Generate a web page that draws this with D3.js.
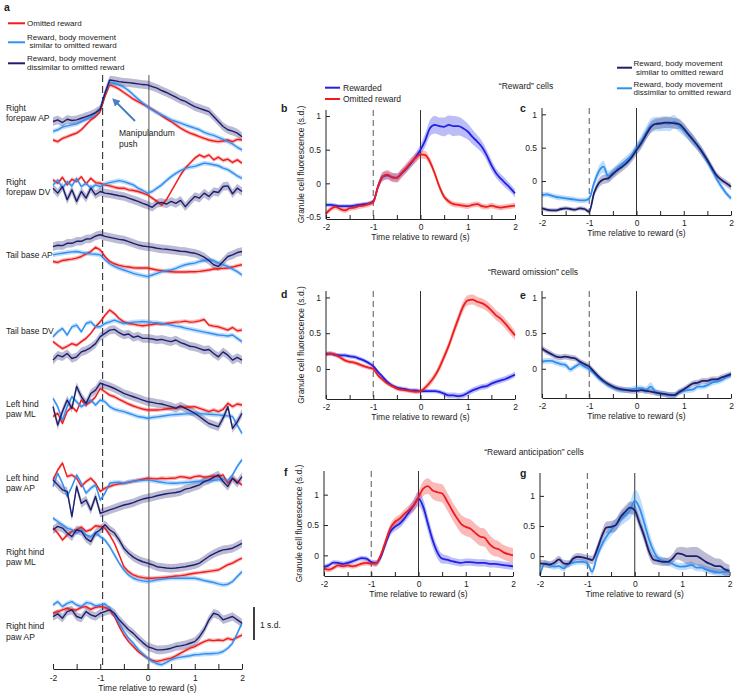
<!DOCTYPE html>
<html><head><meta charset="utf-8">
<script src="https://cdn.jsdelivr.net/npm/d3@7"></script>
<style>
body{margin:0;background:#fff}
text{font-family:"Liberation Sans",Arial,sans-serif;fill:#222}
</style>
</head><body>
<svg id="fig" width="743" height="699" xmlns="http://www.w3.org/2000/svg"></svg>
<script>
// ---------- DATA ----------
const times = d3.range(41).map(i => Math.round(i - 20) / 10); // -2 .. 2 s, 0.1 s steps
const xTicks = [-2, -1.5, -1, -0.5, 0, 0.5, 1, 1.5, 2];

// Panel a: body movement (s.d., relative to each row's baseline)
const rowNames = [["Right", "forepaw AP"], ["Right", "forepaw DV"], ["Tail base AP"], ["Tail base DV"],
  ["Left hind", "paw ML"], ["Left hind", "paw AP"], ["Right hind", "paw ML"], ["Right hind", "paw AP"]];
const rowOffset = [16.64, 14.62, 12.6, 10.37, 8.05, 5.63, 3.61, 1.59];
const aOmitted = [
  [-0.61,-0.66,-0.56,-0.51,-0.45,-0.40,-0.30,-0.15,0,0.10,0.25,0.71,1.06,1.01,0.93,0.83,0.73,0.63,0.55,0.48,0.40,0.32,0.23,0.13,0.03,-0.05,-0.15,-0.25,-0.33,-0.40,-0.45,-0.51,-0.56,-0.61,-0.64,-0.66,-0.64,-0.61,-0.66,-0.59,-0.61],
  [0.20,0.10,0.28,0.05,0.22,0.15,0.30,0.08,0.25,0.12,0.10,0.05,0.02,-0.02,-0.05,-0.05,-0.10,-0.12,-0.15,-0.20,-0.25,-0.35,-0.45,-0.56,-0.40,-0.15,0.10,0.35,0.56,0.71,0.86,0.96,0.89,0.96,0.81,0.89,0.79,0.83,0.73,0.81,0.71],
  [-0.25,-0.28,-0.22,-0.20,-0.18,-0.15,-0.10,-0.02,0.05,0.18,0.10,-0.10,-0.25,-0.32,-0.37,-0.40,-0.42,-0.44,-0.45,-0.45,-0.45,-0.48,-0.51,-0.53,-0.55,-0.56,-0.57,-0.57,-0.57,-0.56,-0.56,-0.55,-0.53,-0.51,-0.48,-0.47,-0.46,-0.45,-0.42,-0.38,-0.35],
  [-0.45,-0.56,-0.66,-0.59,-0.51,-0.56,-0.45,-0.35,-0.20,0,0.15,0.35,0.51,0.40,0.25,0.15,0.10,0.08,0.05,0.03,0.05,0.07,0.10,0.08,0.10,0.12,0.14,0.15,0.17,0.14,0.15,0.18,0.22,0.05,0.02,0,-0.05,-0.10,-0.02,-0.12,-0.10],
  [-0.40,-0.30,-0.61,-0.25,-0.10,-0.25,0.10,-0.05,0.05,0.20,0.45,0.35,0.25,0.20,0.12,0.05,-0.02,-0.08,-0.13,-0.17,-0.20,-0.20,-0.20,-0.19,-0.17,-0.15,-0.14,-0.12,-0.12,-0.11,-0.10,-0.15,-0.20,-0.25,-0.20,-0.25,-0.18,0,-0.10,-0.02,-0.05],
  [0.10,0.40,0.61,0.20,0.25,0.15,-0.10,0.05,0.15,0,-0.25,-0.15,-0.10,-0.05,-0.02,0,0.03,0.06,0.09,0.12,0.15,0.14,0.13,0.15,0.14,0.15,0.16,0.20,0.18,0.15,0.20,0.22,0.18,0.20,0.22,0.20,0.25,0,0.15,0.05,-0.05],
  [0.66,0.51,0.30,0.45,0.56,0.61,0.69,0.56,0.61,0.73,0.71,0.66,0.45,0.20,-0.15,-0.51,-0.66,-0.76,-0.81,-0.84,-0.86,-0.86,-0.85,-0.84,-0.83,-0.81,-0.79,-0.78,-0.76,-0.73,-0.71,-0.69,-0.67,-0.65,-0.63,-0.61,-0.53,-0.45,-0.40,-0.32,-0.25],
  [0.10,0.15,0.20,0.25,0.20,0.20,0.28,0.30,0.22,0.28,0.30,0.28,0.20,0,-0.30,-0.56,-0.76,-0.91,-1.06,-1.16,-1.26,-1.33,-1.36,-1.33,-1.29,-1.26,-1.19,-1.11,-1.03,-0.96,-0.91,-0.83,-0.76,-0.71,-0.73,-0.71,-0.73,-0.66,-0.71,-0.63,-0.56]
];
const aSimilar = [
  [-0.35,-0.30,-0.22,-0.18,-0.15,-0.12,-0.05,0.02,0.10,0.20,0.35,0.81,1.13,1.11,1.06,0.99,0.89,0.76,0.63,0.51,0.40,0.30,0.22,0.15,0.08,0,-0.05,-0.10,-0.15,-0.20,-0.25,-0.30,-0.38,-0.43,-0.47,-0.53,-0.59,-0.66,-0.73,-0.83,-0.91],
  [0.05,0.20,-0.05,0.15,0.02,0.25,0,0.10,-0.05,0.05,0,0.08,0.12,0.15,0.18,0.15,0.10,0.05,-0.05,-0.12,-0.20,-0.15,-0.05,0.05,0.18,0.30,0.40,0.48,0.55,0.59,0.61,0.66,0.71,0.69,0.66,0.63,0.56,0.51,0.42,0.32,0.25],
  [-0.05,-0.02,0,0.02,0.04,0.05,0.02,0,-0.02,-0.03,-0.05,-0.20,-0.32,-0.40,-0.46,-0.51,-0.56,-0.61,-0.65,-0.68,-0.71,-0.66,-0.61,-0.56,-0.53,-0.51,-0.46,-0.40,-0.35,-0.32,-0.30,-0.25,-0.22,-0.20,-0.22,-0.30,-0.35,-0.40,-0.48,-0.56,-0.66],
  [-0.30,-0.15,-0.05,-0.25,0,0.05,-0.15,0.10,0.15,0,0,0.10,0.15,0.20,0.15,0.10,0.12,0.14,0.15,0.16,0.15,0.13,0.12,0.10,0.08,0.05,0.02,0,-0.04,-0.07,-0.10,-0.13,-0.16,-0.19,-0.22,-0.25,-0.26,-0.28,-0.25,-0.35,-0.45],
  [0.15,-0.10,-0.51,-0.10,0.20,0.05,-0.10,0,0.10,-0.05,0.10,0.05,-0.10,-0.18,-0.22,-0.25,-0.30,-0.35,-0.40,-0.42,-0.45,-0.43,-0.41,-0.39,-0.37,-0.35,-0.34,-0.33,-0.32,-0.31,-0.30,-0.31,-0.32,-0.33,-0.34,-0.35,-0.37,-0.38,-0.40,-0.66,-0.91],
  [-0.10,0.30,0,-0.40,-0.10,0.25,0,-0.30,-0.15,-0.05,-0.51,-0.30,0,0.02,0.03,0,0.04,0.06,0.08,0.09,0.10,0.08,0.05,0.03,0.01,0,0,0.01,0.02,0.03,0.05,0.06,0.07,0.08,0.09,0.10,0.12,0.08,0.25,0.51,0.71],
  [0.96,0.86,0.76,0.66,0.61,0.51,0.61,0.45,0.40,0.51,0.40,0.30,0.10,-0.15,-0.40,-0.61,-0.76,-0.86,-0.91,-0.94,-0.96,-0.94,-0.91,-0.89,-0.87,-0.86,-0.86,-0.86,-0.86,-0.86,-0.86,-0.89,-0.93,-0.96,-0.99,-1.03,-1.06,-1.04,-0.96,-0.81,-0.66],
  [0.35,0.45,0.30,0.40,0.45,0.35,0.30,0.42,0.40,0.32,0.35,0.38,0.25,0.05,-0.20,-0.45,-0.66,-0.81,-0.99,-1.13,-1.26,-1.36,-1.43,-1.46,-1.39,-1.31,-1.26,-1.23,-1.21,-1.19,-1.16,-1.15,-1.13,-1.13,-1.12,-1.11,-1.06,-0.96,-0.81,-0.51,-0.20]
];
const aDissimilar = [
  [-0.05,0,-0.08,0.02,-0.02,0,0.05,0.10,0.15,0.22,0.32,0.81,1.21,1.19,1.16,1.14,1.13,1.11,1.09,1.07,1.06,1.01,0.96,0.89,0.83,0.76,0.69,0.61,0.56,0.48,0.40,0.35,0.30,0.25,0.10,-0.05,-0.20,-0.30,-0.34,-0.40,-0.51],
  [-0.05,-0.20,0,-0.40,-0.10,-0.45,-0.15,-0.35,-0.05,-0.25,-0.15,-0.20,-0.22,-0.25,-0.28,-0.30,-0.35,-0.40,-0.45,-0.51,-0.56,-0.63,-0.51,-0.48,-0.53,-0.45,-0.51,-0.42,-0.61,-0.45,-0.30,-0.35,-0.20,-0.30,-0.15,-0.18,0,0.02,-0.22,-0.05,-0.15],
  [0.20,0.24,0.23,0.30,0.30,0.36,0.36,0.43,0.44,0.52,0.56,0.51,0.48,0.45,0.42,0.40,0.35,0.30,0.25,0.22,0.20,0.18,0.15,0.13,0.12,0.10,0.08,0.06,0.05,0.02,0,-0.05,-0.12,-0.22,-0.35,-0.40,-0.25,-0.10,-0.05,0.02,0.05],
  [-1.01,-0.86,-0.91,-0.81,-0.96,-0.91,-0.76,-0.71,-0.63,-0.51,-0.30,-0.20,-0.10,-0.08,-0.18,-0.25,-0.22,-0.32,-0.28,-0.35,-0.35,-0.37,-0.40,-0.38,-0.42,-0.45,-0.40,-0.48,-0.53,-0.59,-0.61,-0.66,-0.71,-0.69,-0.81,-0.91,-0.76,-0.86,-1.01,-0.93,-1.01],
  [-0.10,-0.66,-0.25,0.10,-0.15,0.51,0.20,0,0.30,0.40,0.61,0.56,0.51,0.45,0.38,0.30,0.25,0.20,0.15,0.10,0.05,0.03,0,-0.02,-0.06,-0.10,-0.15,-0.08,-0.15,-0.22,-0.30,-0.40,-0.51,-0.61,-0.66,-0.71,-0.45,-0.10,-0.76,-0.56,-0.30],
  [0.10,-0.05,-0.20,-0.25,-1.01,-0.10,-0.61,-0.51,-0.81,-0.40,-0.91,-0.86,-0.81,-0.76,-0.71,-0.66,-0.63,-0.59,-0.53,-0.48,-0.45,-0.42,-0.38,-0.35,-0.32,-0.30,-0.28,-0.25,-0.18,-0.15,-0.10,-0.05,0.05,0.10,0.18,0.25,0.05,-0.10,0.15,0,0.20],
  [0.61,0.71,0.66,0.51,0.40,0.61,0.56,0.35,0.25,0.51,0.61,0.76,0.61,0.51,0.30,0.05,-0.10,-0.22,-0.30,-0.36,-0.40,-0.45,-0.51,-0.53,-0.55,-0.56,-0.55,-0.53,-0.51,-0.48,-0.45,-0.40,-0.30,-0.20,-0.12,-0.05,0,0.02,0.05,0.12,0.20],
  [0,0.08,-0.05,0.15,0.20,0,-0.05,0.15,0.05,0,0.10,0.15,0.20,0.10,-0.10,-0.25,-0.40,-0.51,-0.66,-0.79,-0.91,-0.96,-1.01,-1.01,-0.99,-0.96,-0.91,-0.89,-0.86,-0.81,-0.76,-0.61,-0.40,-0.10,0.10,0.05,-0.10,-0.05,0,-0.10,-0.20]
];
const aSemOmitted = 0.06, aSemSimilar = 0.07, aSemDissimilar = 0.13;

// Panels b-g: granule cell fluorescence (s.d.)
const bRewarded = [-0.32,-0.32,-0.33,-0.34,-0.34,-0.34,-0.33,-0.32,-0.31,-0.30,-0.27,-0.05,0.10,0.12,0.09,0.085,0.15,0.22,0.30,0.39,0.50,0.64,0.82,0.87,0.85,0.84,0.87,0.85,0.85,0.82,0.77,0.69,0.62,0.54,0.42,0.27,0.15,0.07,0.0,-0.07,-0.15];
const bRewardedSem = [0.03,0.03,0.03,0.03,0.03,0.03,0.03,0.03,0.03,0.03,0.03,0.05,0.06,0.06,0.06,0.06,0.06,0.06,0.06,0.07,0.08,0.1,0.12,0.13,0.13,0.14,0.14,0.15,0.14,0.13,0.12,0.11,0.1,0.09,0.08,0.08,0.07,0.07,0.07,0.06,0.06];
const bOmitted = [-0.45,-0.38,-0.35,-0.38,-0.40,-0.37,-0.36,-0.34,-0.33,-0.31,-0.28,-0.05,0.10,0.13,0.09,0.08,0.15,0.23,0.31,0.38,0.43,0.42,0.32,0.15,-0.05,-0.20,-0.27,-0.31,-0.32,-0.33,-0.34,-0.32,-0.31,-0.34,-0.35,-0.33,-0.35,-0.36,-0.35,-0.34,-0.33];
const bOmittedSem = [0.04,0.04,0.04,0.04,0.04,0.04,0.04,0.04,0.04,0.04,0.04,0.05,0.07,0.07,0.07,0.07,0.07,0.07,0.07,0.07,0.06,0.06,0.06,0.05,0.05,0.04,0.04,0.04,0.04,0.04,0.04,0.04,0.04,0.04,0.04,0.04,0.04,0.04,0.04,0.04,0.04];
const cSimilar = [-0.41,-0.43,-0.44,-0.44,-0.42,-0.41,-0.42,-0.43,-0.41,-0.42,-0.46,-0.185,-0.035,0.025,0.04,0.105,0.165,0.215,0.275,0.355,0.465,0.565,0.69,0.805,0.855,0.865,0.875,0.875,0.865,0.855,0.79,0.70,0.615,0.525,0.425,0.315,0.19,0.08,0.015,-0.035,-0.085];
const cSimilarSem = [0.03,0.03,0.03,0.03,0.03,0.03,0.03,0.03,0.03,0.03,0.03,0.05,0.07,0.07,0.07,0.07,0.07,0.07,0.07,0.07,0.08,0.08,0.08,0.08,0.08,0.08,0.08,0.08,0.08,0.08,0.08,0.08,0.08,0.07,0.07,0.06,0.06,0.05,0.05,0.05,0.05];
const cDissimilar = [-0.21,-0.2,-0.22,-0.24,-0.25,-0.26,-0.27,-0.28,-0.29,-0.29,-0.26,-0.035,0.14,0.215,0.075,0.125,0.19,0.255,0.315,0.39,0.49,0.59,0.715,0.825,0.855,0.855,0.865,0.855,0.89,0.825,0.765,0.69,0.605,0.515,0.415,0.29,0.165,0.025,-0.085,-0.185,-0.26];
const cDissimilarSem = [0.04,0.04,0.04,0.04,0.04,0.04,0.04,0.04,0.04,0.04,0.04,0.06,0.08,0.09,0.08,0.07,0.07,0.07,0.07,0.07,0.08,0.09,0.1,0.11,0.11,0.11,0.11,0.11,0.1,0.09,0.09,0.08,0.08,0.07,0.07,0.06,0.06,0.05,0.05,0.04,0.04];
const dRewarded = [0.215,0.215,0.195,0.19,0.19,0.175,0.17,0.145,0.12,0.085,0.04,-0.04,-0.11,-0.18,-0.23,-0.26,-0.275,-0.285,-0.30,-0.30,-0.31,-0.31,-0.31,-0.31,-0.32,-0.345,-0.37,-0.37,-0.38,-0.37,-0.335,-0.30,-0.275,-0.25,-0.24,-0.205,-0.18,-0.16,-0.14,-0.11,-0.08];
const dRewardedSem = [0.03,0.03,0.03,0.03,0.03,0.03,0.03,0.03,0.03,0.03,0.03,0.03,0.03,0.03,0.03,0.03,0.03,0.03,0.03,0.03,0.03,0.03,0.03,0.03,0.03,0.035,0.04,0.04,0.04,0.04,0.04,0.04,0.04,0.04,0.04,0.04,0.04,0.04,0.04,0.04,0.04];
const dOmitted = [0.20,0.215,0.20,0.16,0.12,0.10,0.09,0.065,0.04,0.02,0.0,-0.09,-0.15,-0.205,-0.24,-0.275,-0.29,-0.30,-0.31,-0.32,-0.31,-0.26,-0.19,-0.10,0.02,0.17,0.33,0.52,0.70,0.87,0.96,0.97,0.94,0.92,0.88,0.82,0.75,0.70,0.63,0.55,0.47];
const dOmittedSem = [0.03,0.03,0.03,0.03,0.03,0.03,0.03,0.03,0.03,0.03,0.03,0.03,0.03,0.03,0.03,0.03,0.03,0.03,0.03,0.03,0.03,0.04,0.05,0.05,0.06,0.06,0.06,0.07,0.07,0.07,0.07,0.07,0.07,0.07,0.07,0.07,0.07,0.07,0.07,0.07,0.06];
const eSimilar = [0.285,0.24,0.205,0.17,0.16,0.17,0.155,0.145,0.10,0.065,0.03,-0.04,-0.11,-0.17,-0.215,-0.25,-0.275,-0.29,-0.30,-0.31,-0.31,-0.30,-0.31,-0.32,-0.335,-0.345,-0.355,-0.365,-0.37,-0.33,-0.29,-0.245,-0.205,-0.195,-0.17,-0.17,-0.15,-0.15,-0.12,-0.10,-0.075];
const eSimilarSem = [0.04,0.04,0.04,0.04,0.04,0.04,0.04,0.04,0.04,0.04,0.04,0.04,0.04,0.04,0.04,0.04,0.04,0.04,0.04,0.04,0.04,0.04,0.04,0.04,0.04,0.04,0.04,0.04,0.04,0.04,0.04,0.04,0.04,0.04,0.04,0.04,0.04,0.04,0.04,0.04,0.04];
const eDissimilar = [0.10,0.11,0.11,0.085,0.065,0.05,-0.01,0.03,0.065,0.03,-0.01,-0.065,-0.135,-0.18,-0.23,-0.26,-0.29,-0.30,-0.30,-0.29,-0.275,-0.275,-0.30,-0.25,-0.32,-0.345,-0.355,-0.37,-0.37,-0.32,-0.31,-0.30,-0.29,-0.25,-0.25,-0.23,-0.195,-0.18,-0.16,-0.12,-0.09];
const eDissimilarSem = [0.04,0.04,0.04,0.04,0.04,0.04,0.04,0.04,0.04,0.04,0.04,0.04,0.04,0.04,0.04,0.04,0.04,0.04,0.04,0.04,0.04,0.04,0.05,0.06,0.05,0.04,0.04,0.04,0.04,0.04,0.04,0.04,0.04,0.04,0.04,0.04,0.04,0.04,0.04,0.04,0.04];
const fRewarded = [-0.19,-0.165,-0.12,-0.125,-0.14,-0.125,-0.10,-0.07,-0.045,-0.055,-0.11,-0.13,-0.03,0.19,0.385,0.47,0.52,0.605,0.715,0.825,0.935,0.80,0.52,0.25,0.05,-0.055,-0.07,-0.095,-0.11,-0.125,-0.11,-0.11,-0.12,-0.125,-0.125,-0.14,-0.14,-0.15,-0.16,-0.17,-0.18];
const fRewardedSem = [0.04,0.04,0.04,0.04,0.04,0.04,0.04,0.04,0.04,0.04,0.04,0.05,0.06,0.07,0.07,0.07,0.07,0.07,0.08,0.1,0.12,0.13,0.13,0.12,0.1,0.08,0.07,0.06,0.06,0.06,0.06,0.06,0.06,0.06,0.06,0.06,0.06,0.06,0.06,0.06,0.06];
const fOmitted = [-0.22,-0.235,-0.205,-0.165,-0.18,-0.165,-0.18,-0.165,-0.135,-0.125,-0.135,-0.135,0.0,0.22,0.44,0.55,0.605,0.685,0.75,0.825,0.96,1.10,1.14,1.07,1.04,1.02,0.90,0.76,0.63,0.52,0.47,0.44,0.37,0.31,0.29,0.19,0.125,0.10,0.05,0.02,0.0];
const fOmittedSem = [0.04,0.04,0.04,0.04,0.04,0.04,0.04,0.04,0.04,0.04,0.04,0.05,0.06,0.07,0.07,0.07,0.07,0.07,0.08,0.09,0.1,0.12,0.13,0.14,0.15,0.15,0.15,0.15,0.15,0.15,0.15,0.15,0.15,0.15,0.15,0.15,0.14,0.13,0.12,0.12,0.12];
const gSimilar = [-0.12,-0.13,-0.14,-0.11,-0.055,-0.12,-0.13,-0.04,-0.01,-0.02,-0.04,-0.065,0.10,0.32,0.475,0.485,0.515,0.65,0.735,0.805,0.76,0.55,0.33,0.08,-0.06,-0.08,-0.095,-0.095,-0.04,0.045,0.035,0.0,0.0,0.0,-0.04,-0.095,-0.13,-0.165,-0.165,-0.22,-0.245];
const gSimilarSem = [0.06,0.06,0.06,0.06,0.06,0.06,0.06,0.06,0.06,0.06,0.06,0.07,0.08,0.09,0.1,0.1,0.1,0.1,0.1,0.1,0.1,0.1,0.1,0.1,0.08,0.07,0.07,0.07,0.08,0.1,0.12,0.14,0.15,0.15,0.15,0.15,0.14,0.13,0.12,0.11,0.1];
const gDissimilar = [-0.315,-0.12,-0.15,-0.175,-0.165,-0.205,-0.13,-0.11,-0.095,-0.095,-0.12,-0.26,-0.01,0.18,0.32,0.43,0.525,0.61,0.68,0.76,0.92,0.8,0.55,0.28,0.08,-0.04,-0.08,-0.095,-0.13,-0.165,-0.175,-0.165,-0.15,-0.19,-0.19,-0.22,-0.245,-0.26,-0.275,-0.26,-0.26];
const gDissimilarSem = [0.05,0.05,0.05,0.05,0.05,0.05,0.05,0.05,0.05,0.05,0.05,0.06,0.07,0.08,0.09,0.1,0.1,0.11,0.12,0.14,0.18,0.2,0.18,0.14,0.1,0.07,0.06,0.06,0.06,0.06,0.06,0.06,0.06,0.06,0.06,0.06,0.06,0.06,0.06,0.06,0.06];

// ---------- STYLE ----------
const COL = {red: "#f01c1c", lblue: "#2f8ff2", navy: "#1e1e6e", blue: "#2020e6"};
const FS = 8.5, FL = 8;
const svg = d3.select("#fig");

function txt(x, y, s, opt = {}) {
  return svg.append("text").attr("x", x).attr("y", y).text(s)
    .attr("font-size", opt.size || FS)
    .attr("font-weight", opt.bold ? "bold" : null)
    .attr("text-anchor", opt.anchor || "start");
}
function trace(g, x, y, vals, sem, off, color, curve) {
  const pts = times.map((t, i) => ({t, v: vals[i] + off, s: Array.isArray(sem) ? (sem[i] ?? sem[sem.length - 1]) : sem}));
  return {
    band: () => g.append("path").attr("d", d3.area().curve(curve).x(d => x(d.t)).y0(d => y(d.v - d.s)).y1(d => y(d.v + d.s))(pts))
      .attr("fill", color).attr("fill-opacity", 0.3).attr("stroke", "none"),
    line: (w) => g.append("path").attr("d", d3.line().curve(curve).x(d => x(d.t)).y(d => y(d.v))(pts))
      .attr("fill", "none").attr("stroke", color).attr("stroke-width", w).attr("stroke-linejoin", "round")
  };
}
function styleAxis(g) {
  g.selectAll("path.domain").attr("stroke", "#222").attr("stroke-width", 1);
  g.selectAll(".tick line").attr("stroke", "#222");
  g.selectAll(".tick text").attr("font-size", FS).attr("fill", "#222")
    .attr("font-family", '"Liberation Sans",Arial,sans-serif');
}
const fmtX = d => Number.isInteger(d) ? String(d) : "";

// ---------- PANEL a ----------
txt(4, 11, "a", {bold: true, size: 10.5});
const legA = [
  {c: COL.red, y: 23.3, lines: [["Omitted reward", 27, 26.3]]},
  {c: COL.lblue, y: 42.3, lines: [["Reward, body movement", 27, 39.6], ["similar to omitted reward", 29.5, 48.4]]},
  {c: COL.navy, y: 63.3, lines: [["Reward, body movement", 27, 61], ["dissimilar to omitted reward", 27, 69.8]]}
];
legA.forEach(l => {
  svg.append("line").attr("x1", 8).attr("x2", 25).attr("y1", l.y).attr("y2", l.y).attr("stroke", l.c).attr("stroke-width", 2);
  l.lines.forEach(s => txt(s[1], s[2], s[0], {size: FL}));
});

const ax = d3.scaleLinear().domain([-2, 2]).range([53, 242]);
const ay = d3.scaleLinear().domain([0, 18]).range([669, 75]);
const gA = svg.append("g");
gA.append("line").attr("x1", ax(-0.95)).attr("x2", ax(-0.95)).attr("y1", 75).attr("y2", 669)
  .attr("stroke", "#333").attr("stroke-width", 1.1).attr("stroke-dasharray", "7,4");
gA.append("line").attr("x1", ax(0.03)).attr("x2", ax(0.03)).attr("y1", 75).attr("y2", 669)
  .attr("stroke", "#555").attr("stroke-width", 1);

const aSeries = [[aOmitted, aSemOmitted, COL.red], [aSimilar, aSemSimilar, COL.lblue], [aDissimilar, aSemDissimilar, COL.navy]];
const aTr = [];
rowOffset.forEach((off, r) => aSeries.forEach(s => aTr.push(trace(gA, ax, ay, s[0][r], s[1], off, s[2], d3.curveLinear))));
aTr.forEach(t => t.band());
aTr.forEach(t => t.line(1.4));

const rowLabelY = [[107.7, 117.7], [182.3, 192.3], [255], [330.7], [404, 414.3], [477.7, 488.3], [551.7, 562.3], [625.7, 636.7]];
rowNames.forEach((ls, r) => ls.forEach((s, k) => txt(6, rowLabelY[r][k] + 3, s)));

const gAx = svg.append("g").attr("transform", "translate(0,669)")
  .call(d3.axisBottom(ax).tickValues(xTicks).tickFormat(fmtX).tickSize(-5).tickSizeOuter(0).tickPadding(6));
styleAxis(gAx);
txt(ax(0), 691, "Time relative to reward (s)", {anchor: "middle"});

// manipulandum arrow
svg.append("defs").append("marker").attr("id", "ah").attr("viewBox", "0 0 10 10").attr("refX", 5).attr("refY", 5)
  .attr("markerWidth", 4).attr("markerHeight", 4).attr("orient", "auto")
  .append("path").attr("d", "M0,0 L10,5 L0,10 z").attr("fill", "#4a7fc2");
svg.append("line").attr("x1", 135).attr("y1", 121).attr("x2", 115).attr("y2", 101)
  .attr("stroke", "#4a7fc2").attr("stroke-width", 2).attr("marker-end", "url(#ah)");
txt(119, 136, "Manipulandum");
txt(119, 147, "push");

// scale bar
svg.append("line").attr("x1", 254).attr("x2", 254).attr("y1", 640).attr("y2", 640 - (ay(0) - ay(1)))
  .attr("stroke", "#111").attr("stroke-width", 1.6);
txt(260, 628, "1 s.d.");

// ---------- PANELS b-g ----------
const panels = [
  {L: "b", lx: 281, ly: 112, x: [326, 515], y: [219, 110], dom: [-0.53, 1.09], yt: [-0.5, 0, 0.5, 1], ylab: true,
   s: [[bRewarded, bRewardedSem, COL.blue], [bOmitted, bOmittedSem, COL.red]]},
  {L: "c", lx: 520, ly: 112, x: [542, 731], y: [215, 108], dom: [-0.51, 1.095], yt: [0, 0.5, 1], ylab: false,
   s: [[cDissimilar, cDissimilarSem, COL.lblue], [cSimilar, cSimilarSem, COL.navy]]},
  {L: "d", lx: 281, ly: 298, x: [326, 515], y: [399, 291], dom: [-0.42, 1.09], yt: [0, 0.5, 1], ylab: true,
   s: [[dRewarded, dRewardedSem, COL.blue], [dOmitted, dOmittedSem, COL.red]]},
  {L: "e", lx: 520, ly: 299, x: [542, 731], y: [398, 291], dom: [-0.41, 1.09], yt: [0, 0.5, 1], ylab: false,
   s: [[eDissimilar, eDissimilarSem, COL.lblue], [eSimilar, eSimilarSem, COL.navy]]},
  {L: "f", lx: 284, ly: 476, x: [324, 513], y: [576, 471], dom: [-0.34, 1.39], yt: [0, 0.5, 1], ylab: true,
   s: [[fRewarded, fRewardedSem, COL.blue], [fOmitted, fOmittedSem, COL.red]]},
  {L: "g", lx: 520, ly: 477, x: [540, 729.5], y: [576, 473], dom: [-0.33, 1.38], yt: [0, 0.5, 1], ylab: false,
   s: [[gDissimilar, gDissimilarSem, COL.lblue], [gSimilar, gSimilarSem, COL.navy]]}
];
panels.forEach(p => {
  const x = d3.scaleLinear().domain([-2, 2]).range(p.x);
  const y = d3.scaleLinear().domain(p.dom).range(p.y);
  const g = svg.append("g");
  g.append("line").attr("x1", x(-1)).attr("x2", x(-1)).attr("y1", p.y[1]).attr("y2", p.y[0])
    .attr("stroke", "#666").attr("stroke-width", 1.1).attr("stroke-dasharray", "6,4");
  g.append("line").attr("x1", x(0)).attr("x2", x(0)).attr("y1", p.y[1]).attr("y2", p.y[0])
    .attr("stroke", "#333").attr("stroke-width", 1);
  const tr = p.s.map(s => trace(g, x, y, s[0], s[1], 0, s[2], d3.curveMonotoneX));
  tr.forEach(t => t.band());
  tr.forEach(t => t.line(1.8));
  const gx = svg.append("g").attr("transform", `translate(0,${p.y[0]})`)
    .call(d3.axisBottom(x).tickValues(xTicks).tickFormat(fmtX).tickSize(-4).tickSizeOuter(0).tickPadding(5));
  styleAxis(gx);
  const gy = svg.append("g").attr("transform", `translate(${p.x[0]},0)`)
    .call(d3.axisLeft(y).tickValues(p.yt).tickFormat(d => String(d)).tickSize(-4).tickSizeOuter(0).tickPadding(5));
  gy.select("path.domain").attr("d", `M0,${p.y[0]}V${p.y[1]}`);
  styleAxis(gy);
  txt((p.x[0] + p.x[1]) / 2, p.y[0] + 21, "Time relative to reward (s)", {anchor: "middle"});
  if (p.ylab) {
    svg.append("text").attr("transform", `translate(${p.x[0] - 25},${(p.y[0] + p.y[1]) / 2}) rotate(-90)`)
      .attr("text-anchor", "middle").attr("dy", "0.35em").attr("font-size", FS).text("Granule cell fluorescence (s.d.)");
  }
  txt(p.lx, p.ly, p.L, {bold: true, size: 10.5});
});

// section titles
txt(526, 89, "\u201cReward\u201d cells", {anchor: "middle"});
txt(533, 275, "\u201cReward omission\u201d cells", {anchor: "middle"});
txt(534, 455, "\u201cReward anticipation\u201d cells", {anchor: "middle"});

// legends b and c
[[COL.blue, 87.7, "Rewarded"], [COL.red, 99, "Omitted reward"]].forEach(l => {
  svg.append("line").attr("x1", 325).attr("x2", 340).attr("y1", l[1]).attr("y2", l[1]).attr("stroke", l[0]).attr("stroke-width", 2);
  txt(343, l[1] + 3, l[2]);
});
[[COL.navy, 67.7, [["Reward, body movement", 633.5, 66], ["similar to omitted reward", 636, 74.8]]],
 [COL.lblue, 88.3, [["Reward, body movement", 633.5, 86.6], ["dissimilar to omitted reward", 633.5, 95.4]]]].forEach(l => {
  svg.append("line").attr("x1", 617).attr("x2", 632).attr("y1", l[1]).attr("y2", l[1]).attr("stroke", l[0]).attr("stroke-width", 2);
  l[2].forEach(s => txt(s[1], s[2], s[0], {size: FL}));
});
</script>
</body></html>
